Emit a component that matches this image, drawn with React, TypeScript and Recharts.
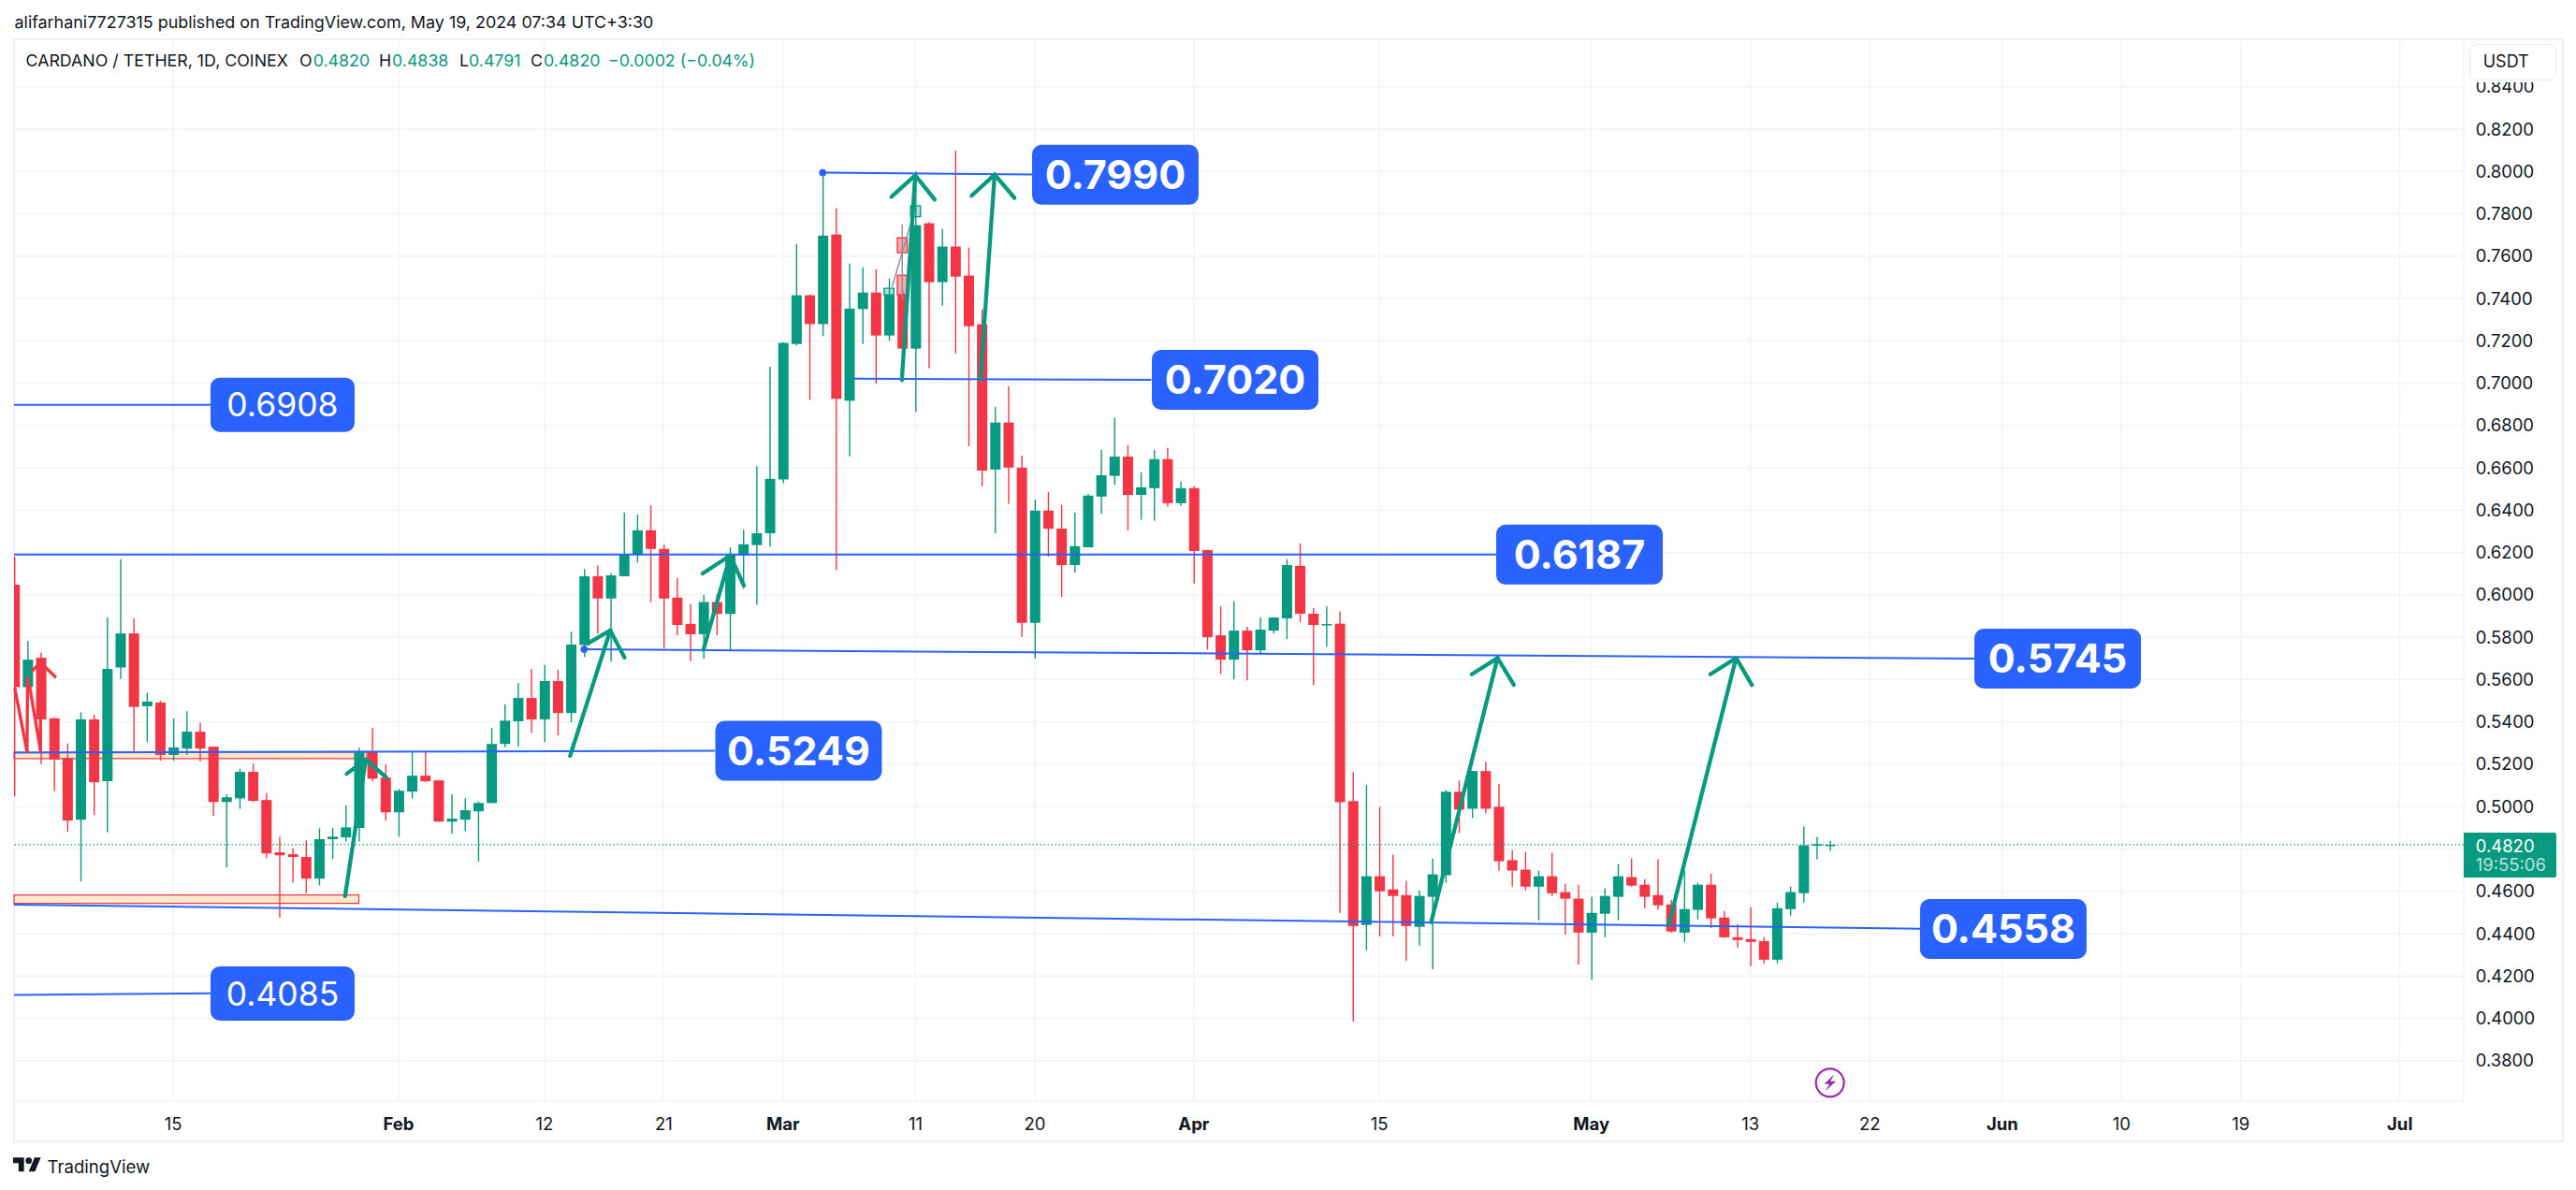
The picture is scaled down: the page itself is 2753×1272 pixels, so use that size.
import {
  Bar,
  CartesianGrid,
  ComposedChart,
  ReferenceArea,
  ReferenceDot,
  ReferenceLine,
  XAxis,
  YAxis,
} from 'recharts';

const GREEN = '#089981';
const RED = '#f23645';
const BLUE = '#2962ff';
const INK = '#131722';
const GRID = '#f2f3f6';
const FONT = 'Inter, sans-serif';

// daily candles, first one is Jan 3 (day numbers count from Jan 1 = 0)
const FIRST_DAY = 2;
const opens = [
  0.6048, 0.5564, 0.5703, 0.5417, 0.523, 0.4938, 0.5412, 0.512, 0.5657, 0.5818, 0.5474, 0.5491, 0.5244, 0.5274, 0.5354,
  0.5283, 0.5022, 0.5039, 0.5164, 0.5031, 0.4784, 0.4775, 0.4762, 0.466, 0.4846, 0.4855, 0.4899, 0.5259, 0.5137, 0.4973,
  0.5071, 0.5146, 0.5124, 0.4929, 0.4938, 0.4978, 0.5017, 0.5296, 0.5403, 0.5513, 0.5412, 0.5593, 0.5442, 0.5763, 0.6088,
  0.5983, 0.6088, 0.6191, 0.6305, 0.6217, 0.5987, 0.5863, 0.5814, 0.5966, 0.591, 0.6186, 0.6235, 0.6291, 0.6545, 0.7185,
  0.7415, 0.7279, 0.7702, 0.6917, 0.735, 0.7428, 0.7225, 0.7418, 0.7163, 0.7755, 0.7477, 0.7645, 0.7508, 0.7278, 0.6592,
  0.6814, 0.6601, 0.5868, 0.6398, 0.6313, 0.6141, 0.6225, 0.6464, 0.6562, 0.6653, 0.6472, 0.6504, 0.6641, 0.6433, 0.6504,
  0.6212, 0.5809, 0.5694, 0.5831, 0.5738, 0.5831, 0.5889, 0.6137, 0.5911, 0.5858, 0.5864, 0.5026, 0.4441, 0.4671, 0.4609,
  0.4582, 0.4432, 0.4574, 0.4676, 0.507, 0.499, 0.5168, 0.4999, 0.4747, 0.4702, 0.4622, 0.4671, 0.4596, 0.4565, 0.4405,
  0.4494, 0.4574, 0.4667, 0.4631, 0.4582, 0.4538, 0.4405, 0.4512, 0.4631, 0.4476, 0.4383, 0.4374, 0.4365, 0.4277, 0.4516,
  0.4591, 0.4817, 0.482,
];
const highs = [
  0.6181, 0.5782, 0.5728, 0.542, 0.5298, 0.5445, 0.5434, 0.5894, 0.6168, 0.5889, 0.5538, 0.55, 0.5417, 0.545, 0.5395,
  0.5283, 0.5058, 0.5178, 0.5203, 0.5063, 0.4858, 0.4804, 0.4841, 0.4897, 0.4899, 0.5005, 0.5278, 0.5371, 0.52, 0.5083,
  0.5259, 0.5259, 0.5124, 0.5058, 0.5039, 0.5024, 0.5371, 0.5483, 0.5584, 0.565, 0.5669, 0.5647, 0.5826, 0.6122, 0.6139,
  0.6102, 0.6389, 0.6379, 0.6423, 0.6237, 0.608, 0.5956, 0.6, 0.6004, 0.6224, 0.6308, 0.6608, 0.7078, 0.7193, 0.7658,
  0.7418, 0.7995, 0.7826, 0.7565, 0.7547, 0.7538, 0.7493, 0.7442, 0.8, 0.776, 0.7728, 0.8098, 0.764, 0.7349, 0.6888,
  0.6985, 0.6658, 0.645, 0.6486, 0.6425, 0.6389, 0.6477, 0.6685, 0.6836, 0.6707, 0.6579, 0.6685, 0.6694, 0.6535, 0.6513,
  0.6212, 0.5946, 0.5969, 0.5849, 0.5893, 0.5893, 0.6168, 0.6243, 0.5937, 0.5946, 0.5922, 0.5163, 0.5101, 0.4999, 0.4773,
  0.4649, 0.4605, 0.4755, 0.5079, 0.5123, 0.5168, 0.5212, 0.5106, 0.4795, 0.4786, 0.4698, 0.4782, 0.4636, 0.4631, 0.4574,
  0.4614, 0.4729, 0.4755, 0.4658, 0.4751, 0.456, 0.4698, 0.464, 0.4684, 0.4507, 0.4445, 0.4525, 0.4383, 0.4547, 0.4622,
  0.4906, 0.4857, 0.4838,
];
const lows = [
  0.5048, 0.5501, 0.52, 0.5073, 0.4882, 0.4647, 0.496, 0.4879, 0.5603, 0.5261, 0.5305, 0.5217, 0.5217, 0.5244, 0.5214,
  0.4956, 0.4713, 0.4989, 0.5022, 0.4757, 0.4476, 0.4642, 0.4591, 0.4628, 0.4753, 0.4835, 0.4836, 0.512, 0.4934, 0.4858,
  0.5039, 0.5115, 0.4929, 0.4872, 0.4885, 0.474, 0.5017, 0.528, 0.5283, 0.5349, 0.5305, 0.5337, 0.5398, 0.5707, 0.5817,
  0.5685, 0.6088, 0.6152, 0.5966, 0.5746, 0.5809, 0.5687, 0.5699, 0.5809, 0.5733, 0.6029, 0.5953, 0.6227, 0.6528, 0.7178,
  0.6921, 0.7222, 0.6117, 0.6655, 0.7185, 0.6998, 0.7201, 0.7005, 0.6863, 0.707, 0.7366, 0.7141, 0.6702, 0.6513, 0.6291,
  0.643, 0.5801, 0.5699, 0.6181, 0.599, 0.6105, 0.6225, 0.6384, 0.6521, 0.6305, 0.6355, 0.635, 0.6416, 0.642, 0.6054,
  0.5742, 0.5627, 0.5601, 0.5596, 0.5716, 0.5818, 0.5791, 0.5871, 0.5574, 0.5756, 0.4498, 0.3985, 0.4321, 0.4387, 0.4387,
  0.4272, 0.4343, 0.4232, 0.464, 0.4875, 0.4946, 0.4968, 0.4698, 0.4622, 0.4605, 0.4463, 0.4578, 0.4396, 0.4254, 0.4183,
  0.4383, 0.4463, 0.4622, 0.452, 0.4512, 0.4405, 0.4361, 0.4467, 0.4427, 0.4379, 0.4334, 0.4246, 0.4259, 0.4259, 0.4485,
  0.4547, 0.4751, 0.4791,
];
const closes = [
  0.5564, 0.5694, 0.5412, 0.5222, 0.4934, 0.5412, 0.5115, 0.565, 0.5818, 0.5471, 0.5496, 0.5244, 0.528, 0.5354, 0.5274,
  0.5022, 0.5044, 0.5164, 0.5027, 0.4779, 0.477, 0.4762, 0.466, 0.4846, 0.4858, 0.4902, 0.5259, 0.5132, 0.4973, 0.5075,
  0.5146, 0.512, 0.4929, 0.4943, 0.4983, 0.5017, 0.5296, 0.5406, 0.5513, 0.5412, 0.5593, 0.5442, 0.5765, 0.6088, 0.5983,
  0.6092, 0.6191, 0.6305, 0.6217, 0.5983, 0.5858, 0.5814, 0.5966, 0.591, 0.6191, 0.6239, 0.6291, 0.6548, 0.719, 0.7415,
  0.7279, 0.7697, 0.6926, 0.7352, 0.7428, 0.7225, 0.7418, 0.7163, 0.7746, 0.7477, 0.7645, 0.7503, 0.7269, 0.6587, 0.6814,
  0.6601, 0.5868, 0.6398, 0.6312, 0.6141, 0.623, 0.6469, 0.6565, 0.6653, 0.6472, 0.6508, 0.6641, 0.6433, 0.6504, 0.6207,
  0.58, 0.5694, 0.5831, 0.5738, 0.5836, 0.5893, 0.6141, 0.5911, 0.5858, 0.5862, 0.5021, 0.4436, 0.4671, 0.46, 0.4578,
  0.4436, 0.4578, 0.468, 0.507, 0.4986, 0.5168, 0.499, 0.4742, 0.4698, 0.4622, 0.4671, 0.4591, 0.4565, 0.4405, 0.4498,
  0.4578, 0.4671, 0.4627, 0.4574, 0.4534, 0.441, 0.4516, 0.4631, 0.4472, 0.4383, 0.437, 0.4361, 0.4277, 0.452, 0.4596,
  0.4817, 0.4822, 0.482,
];

const priceTicks = [
  0.38, 0.4, 0.42, 0.44, 0.46, 0.48, 0.5, 0.52, 0.54, 0.56, 0.58, 0.6, 0.62, 0.64, 0.66, 0.68, 0.7, 0.72, 0.74, 0.76,
  0.78, 0.8, 0.82, 0.84,
];
const dayTicks = [14, 31, 42, 51, 60, 70, 79, 91, 105, 121, 133, 142, 152, 161, 170, 182];
const dayLabels = ['15', 'Feb', '12', '21', 'Mar', '11', '20', 'Apr', '15', 'May', '13', '22', 'Jun', '10', '19', 'Jul'];
const monthLabels = ['Feb', 'Mar', 'Apr', 'May', 'Jun', 'Jul'];

const DAY_MIN = 1.98;
const DAY_MAX = 186.82;
const PRICE_MIN = 0.3609;
const PRICE_MAX = 0.8624;
const LAST_PRICE = 0.482;

// [day, price, day, price]
const blueLines = [
  [63, 0.7994, 78.8, 0.7985],
  [65.35, 0.7021, 87.8, 0.7016],
  [DAY_MIN, 0.6898, 16.8, 0.6898],
  [DAY_MIN, 0.619, 113.8, 0.619],
  [45, 0.5743, 149.9, 0.5699],
  [DAY_MIN, 0.5255, 54.86, 0.5264],
  [DAY_MIN, 0.4537, 145.8, 0.4423],
  [DAY_MIN, 0.411, 16.8, 0.4118],
];
const blueDots = [
  [63, 0.7994],
  [45, 0.5743],
];

// day, price, text, bold
const priceTags: [number, number, string, boolean][] = [
  [85.08, 0.7984, '0.7990', true],
  [94.12, 0.7016, '0.7020', true],
  [120.1, 0.619, '0.6187', true],
  [156.18, 0.5699, '0.5745', true],
  [61.18, 0.5264, '0.5249', true],
  [152.08, 0.4422, '0.4558', true],
  [22.24, 0.6898, '0.6908', false],
  [22.24, 0.4117, '0.4085', false],
];

// start, tip, left wing, right wing, each [day, price]
const greenArrows = [
  [[26.96, 0.4577], [28.52, 0.5222], [27.08, 0.5155], [30.08, 0.5137]],
  [[43.94, 0.524], [46.97, 0.5832], [45.26, 0.577], [48.04, 0.5704]],
  [[54, 0.5741], [56.02, 0.6186], [53.94, 0.6101], [57.05, 0.6044]],
  [[68.97, 0.7015], [69.98, 0.7982], [68.18, 0.788], [71.45, 0.7867]],
  [[74.9, 0.7018], [75.97, 0.7985], [74.23, 0.7885], [77.47, 0.7875]],
  [[108.91, 0.4454], [113.92, 0.5702], [111.97, 0.5625], [115.15, 0.5575]],
  [[126.84, 0.4443], [131.92, 0.5702], [129.97, 0.5625], [133.11, 0.5575]],
];

// the broken red arrow on the left edge
const redStrokes = [
  [2.05, 0.5555, 2.96, 0.526],
  [2.96, 0.526, 3.0, 0.5606],
  [3.15, 0.5571, 3.97, 0.5267],
  [3.97, 0.5267, 3.97, 0.5681],
  [3.97, 0.5681, 3.39, 0.5643],
  [3.97, 0.5681, 5.08, 0.5614],
];

// x1, x2, y1, y2
const orangeZones = [
  [DAY_MIN, 28.6, 0.5227, 0.5257],
  [DAY_MIN, 28, 0.4543, 0.4583],
];

// bars-pattern copy near the March top: x1, x2, y1, y2, colour
const ghostBodies: [number, number, number, number, string][] = [
  [67.63, 68.37, 0.7417, 0.7448, GREEN],
  [68.63, 69.37, 0.7616, 0.7686, RED],
  [68.63, 69.37, 0.7418, 0.751, RED],
  [69.63, 70.37, 0.7786, 0.7838, GREEN],
];
const ghostLines = [
  [68.23, 0.7455, 69.76, 0.7779],
  [69, 0.7396, 69, 0.7749],
];

const candles = opens.map((open, i) => ({
  day: FIRST_DAY + i,
  open,
  high: highs[i],
  low: lows[i],
  close: closes[i],
}));

function Candle(props: any) {
  const { x, y, width, height, payload } = props;
  const up = payload.close >= payload.open;
  const color = up ? GREEN : RED;
  const top = Math.min(y, y + height);
  const span = Math.abs(height);
  const range = payload.high - payload.low || 1;
  const toY = (price: number) => top + ((payload.high - price) / range) * span;
  const bodyTop = toY(Math.max(payload.open, payload.close));
  const bodyBottom = toY(Math.min(payload.open, payload.close));
  return (
    <g>
      <rect x={x + width / 2 - 0.7} y={top} width={1.4} height={span} fill={color} />
      <rect x={x} y={bodyTop} width={width} height={Math.max(bodyBottom - bodyTop, 1.5)} fill={color} />
    </g>
  );
}

function PriceTag(props: any) {
  const { cx, cy, text, bold } = props;
  const w = bold ? 178 : 154;
  const h = bold ? 64 : 58;
  return (
    <g>
      <rect x={cx - w / 2} y={cy - h / 2} width={w} height={h} rx={10} fill={BLUE} />
      <text
        x={cx}
        y={cy}
        dy="0.36em"
        textAnchor="middle"
        fill="#fff"
        fontFamily={FONT}
        fontSize={bold ? 43 : 35.5}
        fontWeight={bold ? 700 : 400}
      >
        {text}
      </text>
    </g>
  );
}

function BoltIcon(props: any) {
  const { cx, cy } = props;
  return (
    <g transform={`translate(${cx},${cy})`}>
      <circle r={15} fill="#fff" stroke="#9c27b0" strokeWidth={2.2} />
      <path d="M4.5 -9 L-6 1.5 L-0.5 1.5 L-5 9 L6.5 -1.5 L0.5 -1.5 Z" fill="#9c27b0" />
    </g>
  );
}

function DayTick(props: any) {
  const { x, y, payload } = props;
  const label = dayLabels[dayTicks.indexOf(payload.value)];
  return (
    <text
      x={x}
      y={y + 15.9}
      dy="0.36em"
      textAnchor="middle"
      fill={INK}
      fontFamily={FONT}
      fontSize={18.5}
      fontWeight={monthLabels.includes(label) ? 700 : 400}
    >
      {label}
    </text>
  );
}

function segment(a: number, b: number, c: number, d: number) {
  return [
    { x: a, y: b },
    { x: c, y: d },
  ] as any;
}

const text = (left: number, top: number, size: number, color: string, content: string, weight = 400) => (
  <div
    key={`${left}-${top}`}
    style={{
      position: 'absolute',
      left,
      top,
      fontSize: size,
      lineHeight: '24px',
      color,
      fontWeight: weight,
      whiteSpace: 'pre',
    }}
  >
    {content}
  </div>
);

export default function App() {
  return (
    <div
      style={{
        position: 'absolute',
        left: 0,
        top: 0,
        width: 2753,
        height: 1272,
        background: '#fff',
        fontFamily: FONT,
        overflow: 'hidden',
      }}
    >
      <div
        style={{
          position: 'absolute',
          left: 14,
          top: 41,
          width: 2722,
          height: 1176,
          border: '2px solid #f0f1f5',
        }}
      />
      <div style={{ position: 'absolute', left: 0, top: 0 }}>
        <ComposedChart
          width={2753}
          height={1272}
          data={candles}
          margin={{ top: 42, right: 15, bottom: 53, left: 15 }}
        >
          <CartesianGrid stroke={GRID} strokeWidth={1.4} />
          <XAxis
            dataKey="day"
            type="number"
            domain={[DAY_MIN, DAY_MAX]}
            allowDataOverflow
            ticks={dayTicks}
            interval={0}
            height={42}
            axisLine={false}
            tickLine={false}
            tick={<DayTick />}
          />
          <YAxis
            orientation="right"
            width={105}
            domain={[PRICE_MIN, PRICE_MAX]}
            allowDataOverflow
            ticks={priceTicks}
            interval={0}
            axisLine={false}
            tickLine={false}
            tickSize={0}
            tickMargin={12.7}
            tickFormatter={(v: number) => (v === LAST_PRICE ? '' : v.toFixed(4))}
            tick={{ fill: INK, fontFamily: FONT, fontSize: 18.5 }}
          />

          {orangeZones.map(([x1, x2, y1, y2], i) => (
            <ReferenceArea
              key={`zone-${i}`}
              x1={x1}
              x2={x2}
              y1={y1}
              y2={y2}
              fill="#fde9cb"
              fillOpacity={1}
              stroke={RED}
              strokeOpacity={1}
              strokeWidth={1.2}
            />
          ))}
          <ReferenceLine y={LAST_PRICE} stroke={GREEN} strokeWidth={1.3} strokeDasharray="1.5 2.5" />
          {blueLines.map(([a, b, c, d], i) => (
            <ReferenceLine key={`blue-${i}`} segment={segment(a, b, c, d)} stroke={BLUE} strokeWidth={2} />
          ))}
          {blueDots.map(([x, y], i) => (
            <ReferenceDot key={`dot-${i}`} x={x} y={y} r={3.5} fill={BLUE} stroke={BLUE} />
          ))}
          {ghostLines.map(([a, b, c, d], i) => (
            <ReferenceLine key={`ghost-line-${i}`} segment={segment(a, b, c, d)} stroke="#8b8e97" strokeWidth={1.4} />
          ))}
          {ghostBodies.map(([x1, x2, y1, y2, color], i) => (
            <ReferenceArea
              key={`ghost-${i}`}
              x1={x1}
              x2={x2}
              y1={y1}
              y2={y2}
              fill={color === RED ? '#fca6ad' : '#aee0d5'}
              fillOpacity={1}
              stroke={color}
              strokeOpacity={1}
              strokeWidth={1.4}
            />
          ))}
          {redStrokes.map(([a, b, c, d], i) => (
            <ReferenceLine
              key={`red-${i}`}
              segment={segment(a, b, c, d)}
              stroke={RED}
              strokeWidth={3.4}
              strokeLinecap="round"
            />
          ))}
          {greenArrows.map(([start, tip, left, right], i) => (
            <g key={`arrow-${i}`}>
              {[start, left, right].map((p, j) => (
                <ReferenceLine
                  key={j}
                  segment={segment(p[0], p[1], tip[0], tip[1])}
                  stroke={GREEN}
                  strokeWidth={4.3}
                  strokeLinecap="round"
                />
              ))}
            </g>
          ))}

          <Bar
            dataKey={(d: any) => [d.low, d.high]}
            barSize={11}
            shape={<Candle />}
            isAnimationActive={false}
          />

          {priceTags.map(([x, y, label, bold]) => (
            <ReferenceDot
              key={label}
              x={x}
              y={y}
              r={1}
              shape={(p: any) => <PriceTag cx={p.cx} cy={p.cy} text={label} bold={bold} />}
            />
          ))}
          <ReferenceDot x={139} y={0.3696} r={15} shape={(p: any) => <BoltIcon cx={p.cx} cy={p.cy} />} />
        </ComposedChart>
      </div>

      {text(15.5, 12, 17.9, INK, 'alifarhani7727315 published on TradingView.com, May 19, 2024 07:34 UTC+3:30')}
      {text(27.5, 53, 17.8, INK, 'CARDANO / TETHER, 1D, COINEX')}
      {text(320, 53, 17.8, INK, 'O')}
      {text(334.7, 53, 17.8, GREEN, '0.4820')}
      {text(405, 53, 17.8, INK, 'H')}
      {text(419, 53, 17.8, GREEN, '0.4838')}
      {text(491, 53, 17.8, INK, 'L')}
      {text(501, 53, 17.8, GREEN, '0.4791')}
      {text(567, 53, 17.8, INK, 'C')}
      {text(581, 53, 17.8, GREEN, '0.4820')}
      {text(650, 53, 17.8, GREEN, '\u22120.0002 (\u22120.04%)')}

      {/* white strip behind the currency button, it cuts the top tick in half */}
      <div style={{ position: 'absolute', left: 2634, top: 43, width: 103, height: 45, background: '#fff' }} />
      <div
        style={{
          position: 'absolute',
          left: 2639,
          top: 47,
          width: 91,
          height: 37,
          background: '#fff',
          border: '1px solid #e6e8f0',
          borderRadius: 8,
        }}
      />
      {text(2653.7, 54, 18, INK, 'USDT')}

      <div
        style={{
          position: 'absolute',
          left: 2633,
          top: 890,
          width: 99,
          height: 48,
          background: GREEN,
          borderRadius: '0 2px 2px 0',
        }}
      />
      {text(2645.7, 892, 18.5, '#fff', '0.4820')}
      {text(2645.7, 912, 18.5, '#b9e3da', '19:55:06')}

      <svg style={{ position: 'absolute', left: 14.4, top: 1233.5 }} width={30} height={20} viewBox="0 0 36 24">
        <path d="M14 22H7V11H0V4h14v18z M28 22h-8l7.5-18h8L28 22z" fill={INK} />
        <circle cx={20} cy={8} r={4} fill={INK} />
      </svg>
      {text(50.5, 1235, 18.6, INK, 'TradingView', 400)}
    </div>
  );
}
